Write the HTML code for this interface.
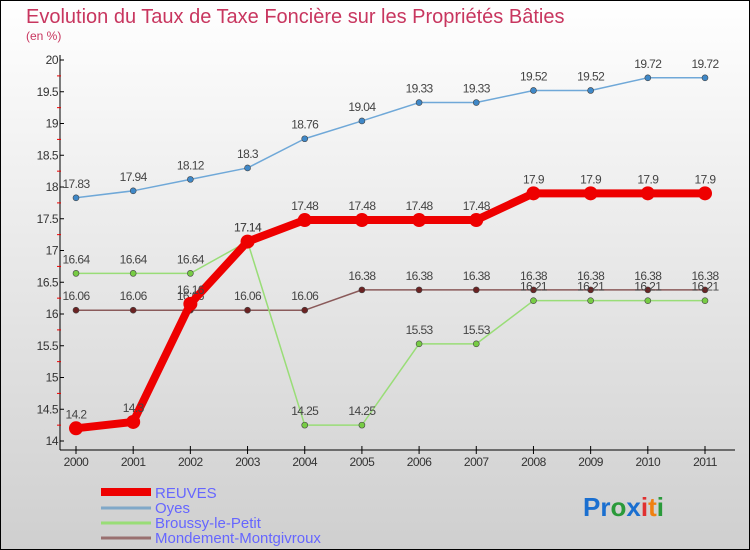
<!DOCTYPE html>
<html><head><meta charset="utf-8"><style>
html,body{margin:0;padding:0}
body{width:750px;height:550px;overflow:hidden;font-family:"Liberation Sans",sans-serif}
svg{display:block}
</style></head><body>
<svg id="chart" width="750" height="550" viewBox="0 0 750 550">
<defs><linearGradient id="bg" x1="0" y1="0" x2="0" y2="1"><stop offset="0" stop-color="#ffffff"/><stop offset="1" stop-color="#cfcfcf"/></linearGradient></defs>
<rect x="0.5" y="0.5" width="749" height="549" fill="url(#bg)" stroke="#000"/>
<text x="26" y="23" font-size="20" fill="#c8365f">Evolution du Taux de Taxe Foncière sur les Propriétés Bâties</text>
<text x="26" y="40" font-size="12" fill="#c8365f">(en %)</text>
<g id="axes"></g><g id="series"></g>
<g>
<line x1="101" y1="492" x2="151" y2="492" stroke="#e00" stroke-width="8"/>
<text x="155" y="498" font-size="15" fill="#6666ff">REUVES</text>
<line x1="101" y1="508" x2="151" y2="508" stroke="#80a8c8" stroke-width="3"/>
<text x="155" y="513" font-size="15" fill="#6666ff">Oyes</text>
<line x1="101" y1="523" x2="151" y2="523" stroke="#99dd77" stroke-width="3"/>
<text x="155" y="528" font-size="15" fill="#6666ff">Broussy-le-Petit</text>
<line x1="101" y1="538" x2="151" y2="538" stroke="#997070" stroke-width="3"/>
<text x="155" y="543" font-size="15" fill="#6666ff">Mondement-Montgivroux</text>
</g>
<text x="583" y="516" font-size="26" font-weight="bold"><tspan fill="#1a6fd0">Pr</tspan><tspan fill="#2a9a3a">o</tspan><tspan fill="#1a6fd0">x</tspan><tspan fill="#e03030">i</tspan><tspan fill="#f08010">t</tspan><tspan fill="#2a9a3a">i</tspan></text>
</svg>
<script>
const years=[2000,2001,2002,2003,2004,2005,2006,2007,2008,2009,2010,2011];
const reuves=[14.2,14.3,16.16,17.14,17.48,17.48,17.48,17.48,17.9,17.9,17.9,17.9];
const oyes=[17.83,17.94,18.12,18.3,18.76,19.04,19.33,19.33,19.52,19.52,19.72,19.72];
const broussy=[16.64,16.64,16.64,17.14,14.25,14.25,15.53,15.53,16.21,16.21,16.21,16.21];
const mondement=[16.06,16.06,16.06,16.06,16.06,16.38,16.38,16.38,16.38,16.38,16.38,16.38];
const yTicks=[14,14.5,15,15.5,16,16.5,17,17.5,18,18.5,19,19.5,20];
const NS="http://www.w3.org/2000/svg";
const xs=i=>76+i*(705-76)/11;
const ys=v=>441-(v-14)*63.5;
function mk(tag,attrs,parent,txt){const e=document.createElementNS(NS,tag);for(const k in attrs)e.setAttribute(k,attrs[k]);if(txt!==undefined)e.textContent=txt;parent.appendChild(e);return e;}
const axes=document.getElementById('axes'),ser=document.getElementById('series');
let a=mk('line',{x1:60,y1:55,x2:60,y2:450,stroke:'#000'},axes);


a=mk('line',{x1:60,y1:450,x2:735,y2:450,stroke:'#000'},axes);


yTicks.forEach((v,k)=>{const y=ys(v);
 mk('line',{x1:60,y1:y,x2:64,y2:y,stroke:'#000'},axes);
 if(k>0) mk('line',{x1:57,y1:y+15.9,x2:61,y2:y+15.9,stroke:'#e00'},axes);
 const t=mk('text',{x:58,y:y+4,'font-size':12,fill:'#333','text-anchor':'end','letter-spacing':'-0.5'},axes,String(v));
 
 });
years.forEach((yr,i)=>{const x=xs(i);
 mk('line',{x1:x,y1:446,x2:x,y2:454,stroke:'#000'},axes);
 const t=mk('text',{x:x,y:466,'font-size':12,fill:'#333','text-anchor':'middle','letter-spacing':'-0.5'},axes,String(yr));
 
 });
function draw(data,name,color,w,r,dot){
 const g=mk('g',{},ser);
 
 
 const p=mk('polyline',{points:data.map((v,i)=>xs(i)+','+ys(v)).join(' '),fill:'none',stroke:color,'stroke-width':w,'stroke-linejoin':'round'},g);
 
 
 data.forEach((v,i)=>{const c=mk('circle',{cx:xs(i),cy:ys(v),r:r,fill:dot,stroke:'#444','stroke-width':r>5?0:0.6},g);
  
  
  const t=mk('text',{x:xs(i),y:ys(v)-10,'font-size':12,fill:'#444','text-anchor':'middle','letter-spacing':'-0.6'},g,String(v));
  
  });
}
draw(mondement,'mondement','#8a5a5a',1.5,3,'#6b2222');
draw(broussy,'broussy','#99dd77',1.5,3,'#77cc44');
draw(oyes,'oyes','#6fa8d8',1.5,3,'#3f88c8');
draw(reuves,'reuves','#ee0000',8,7,'#ee0000');
</script>
</body></html>
